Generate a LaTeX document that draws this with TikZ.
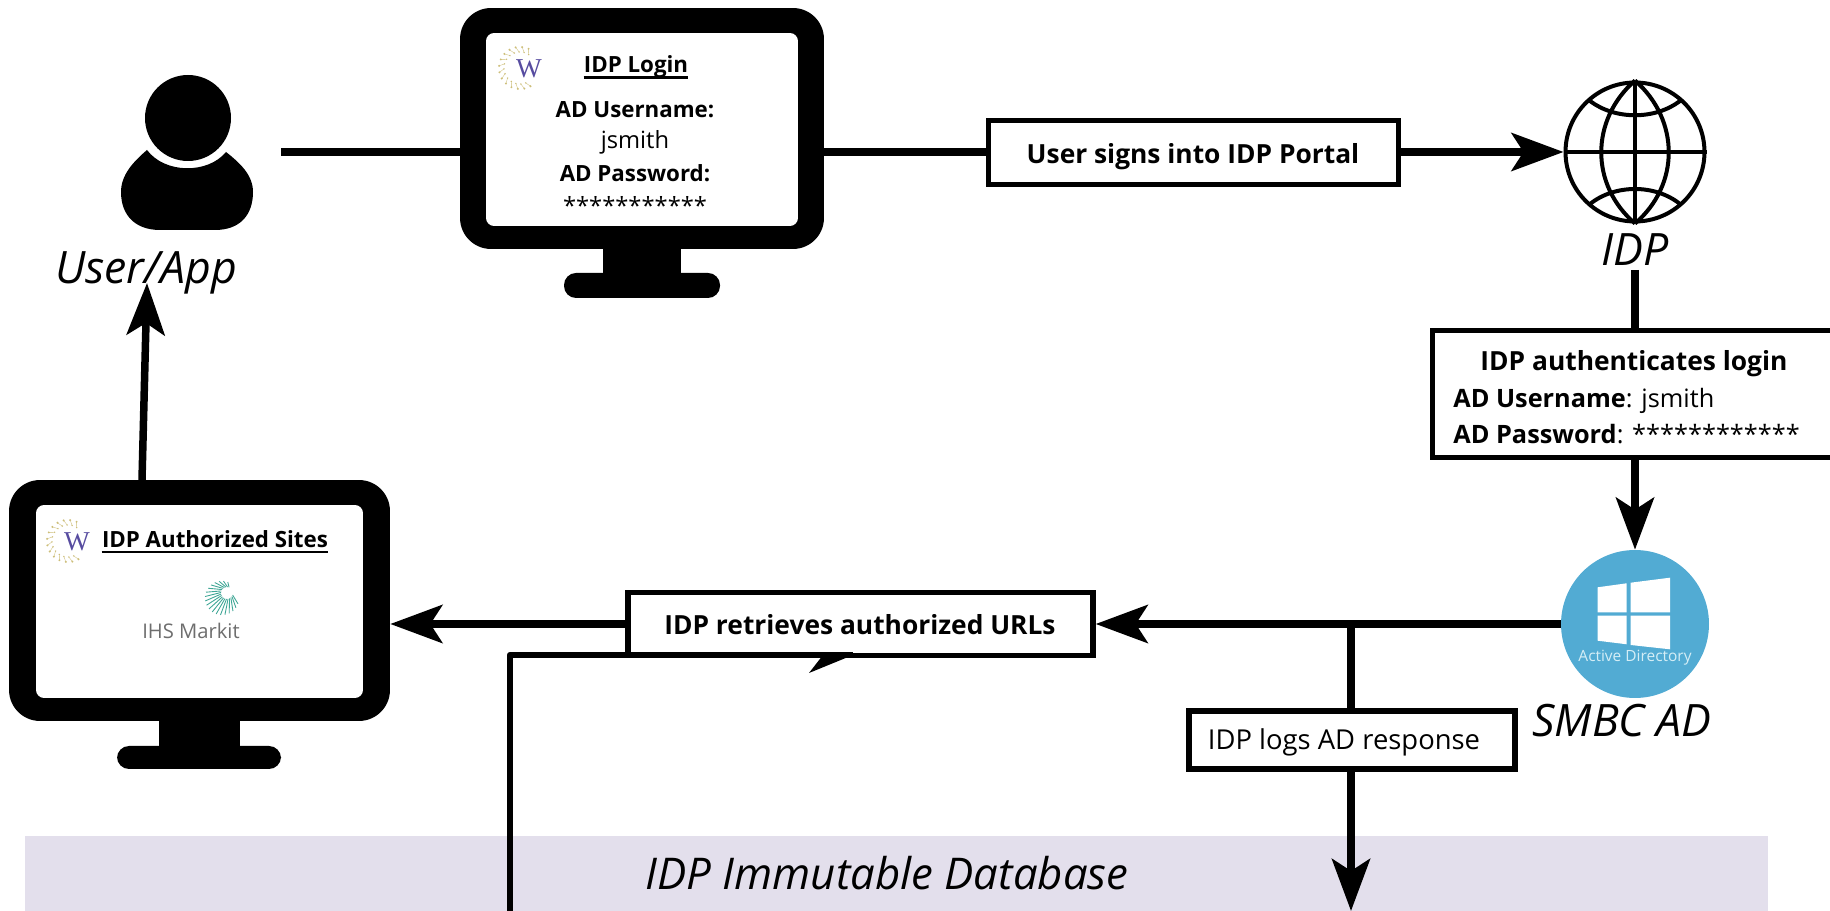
\documentclass[tikz,border=0pt]{standalone}
\usepackage{fontspec}
\setmainfont{Open Sans}
\newfontfamily\logofont{Liberation Serif}
\usepackage{tikz}
\usetikzlibrary{arrows.meta,calc}

\definecolor{adblue}{HTML}{52ABD3}
\definecolor{adtext}{HTML}{D5EEF6}
\definecolor{bandlilac}{HTML}{E3DFEC}
\definecolor{logogold}{HTML}{CDBE78}
\definecolor{logoblue}{HTML}{574CA0}
\definecolor{burstgreen}{HTML}{3FA796}
\definecolor{markitgray}{HTML}{6E6E6E}

\tikzset{
	flow/.style={line width=0.15cm,-{Stealth[length=1.04cm,width=0.76cm,inset=0.24cm]}},
	plainflow/.style={line width=0.15cm},
	stepbox/.style={draw,line width=0.11cm,fill=white,inner sep=0pt},
	monitor/.style={fill=black,rounded corners=0.62cm,inner sep=0pt},
	screen/.style={fill=white,rounded corners=0.16cm,inner sep=0pt},
	lbl/.style={inner sep=0pt,font=\fontsize{14.4}{17}\selectfont},
	boldlbl/.style={inner sep=0pt,font=\fontsize{15}{18}\selectfont\bfseries},
	screenlbl/.style={inner sep=0pt,font=\fontsize{13.5}{16}\selectfont},
	screenbold/.style={inner sep=0pt,font=\fontsize{12.7}{15}\selectfont\bfseries},
	actor/.style={inner sep=0pt,font=\fontsize{25.4}{30}\selectfont\itshape},
	headrule/.style={line width=0.05cm},
	wlogo/.pic={
		\foreach \a in {60,78,...,310}{
			\fill[logogold] (\a:21) circle (1.1);
			\fill[logogold] (\a+9:16) circle (0.8);
			\draw[logogold,line width=0.2pt] (\a:21) -- (\a+9:16);
		}
		\node[inner sep=0pt,text=logoblue,font=\logofont\fontsize{15.5}{17}\selectfont] (-mark) at (9,1) {W};
	}
}

\begin{document}
\begin{tikzpicture}[x=0.02cm,y=-0.02cm]
	\useasboundingbox (0,0) rectangle (1830,911);

	%database band
	\fill[bandlilac] (25,836) rectangle (1768,911);
	\node[actor,font=\fontsize{24.9}{30}\selectfont\itshape] (dbname) at (887,873) {IDP Immutable Database};
	\coordinate (dbin) at (1351,911);
	\coordinate (dbout) at (510,911);

	%user
	\fill (188,118) circle (43);
	\fill (147,150) .. controls (165,174) and (208,174) .. (226,152)
		.. controls (240,163) and (253,175) .. (253,192)
		.. controls (253,215) and (240,230) .. (215,230) -- (160,230)
		.. controls (135,230) and (121,215) .. (121,192)
		.. controls (121,175) and (133,162) .. (147,150) -- cycle;
	\node[actor] (username) at (146,273) {User/App};
	\coordinate (usertail) at (281,152);
	\coordinate (userin) at (147,283);

	%login monitor
	\fill (603,245) rectangle (681,278);
	\fill[rounded corners=0.24cm] (564,273) rectangle (720,298);
	\node[monitor,minimum width=7.28cm,minimum height=4.82cm] (loginmon) at (642,128.5) {};
	\node[screen,minimum width=6.24cm,minimum height=3.86cm] (loginscreen) at (642,129.5) {};
	\pic (loginlogo) at (520,68) {wlogo};
	\node[screenbold] (logintitle) at (636,67) {IDP Login};
	\draw[headrule] ([yshift=-2.6pt]logintitle.base west) -- ([yshift=-2.6pt]logintitle.base east);
	\node[screenbold] (loginuser) at (635,110) {AD Username:};
	\node[screenlbl] (loginname) at (635,142) {jsmith};
	\node[screenbold] (loginpass) at (635,173) {AD Password:};
	\node[screenlbl] (loginstars) at (635,205) {***********};

	%sites monitor
	\fill (159,717) rectangle (240,750);
	\fill[rounded corners=0.24cm] (117,746) rectangle (281,769);
	\node[monitor,minimum width=7.62cm,minimum height=4.82cm] (sitesmon) at (199.5,600.5) {};
	\node[screen,minimum width=6.54cm,minimum height=3.86cm] (sitesscreen) at (199.5,601.5) {};
	\pic (siteslogo) at (68,541) {wlogo};
	\node[screenbold] (sitestitle) at (215,539) {IDP Authorized Sites};
	\draw[headrule] ([yshift=-2.6pt]sitestitle.base west) -- ([yshift=-2.6pt]sitestitle.base east);
	\coordinate (bursthole) at (227,593);
	\coordinate (burstmid) at (222,598);
	\foreach \a in {20,35,...,290}{
		\draw[burstgreen,line width=0.5pt] ($(bursthole)+(\a:6)$) -- ($(burstmid)+(\a:17)$);
	}
	\node[inner sep=0pt,text=markitgray,font=\fontsize{11.5}{13}\selectfont] (markit) at (191,631) {IHS Markit};

	%idp globe
	\node[circle,draw,line width=0.08cm,minimum size=2.78cm,inner sep=0pt] (globe) at (1635,152) {};
	\draw[line width=0.08cm] (globe.west) -- (globe.east);
	\draw[line width=0.08cm] (globe.north) -- (globe.south);
	\draw[line width=0.08cm] (globe.north) .. controls (1590,120) and (1590,185) .. (globe.south);
	\draw[line width=0.08cm] (globe.north) .. controls (1680,120) and (1680,185) .. (globe.south);
	\draw[line width=0.08cm] (1590,101) .. controls (1615,120) and (1655,120) .. (1680,101);
	\draw[line width=0.08cm] (1590,204) .. controls (1615,184) and (1655,184) .. (1680,204);
	\node[actor] (idpname) at (1635,250) {IDP};
	\coordinate (idptail) at (1635,270);

	%active directory
	\node[circle,fill=adblue,minimum size=2.96cm,inner sep=0pt] (adcircle) at (1635,624) {};
	\fill[white] (1597.7,587.3) -- (1626.7,583.3) -- (1626.7,612.3) -- (1597.7,612.3) -- cycle;
	\fill[white] (1630.7,582.7) -- (1670,577.7) -- (1670,612.3) -- (1630.7,612.3) -- cycle;
	\fill[white] (1597.7,615.7) -- (1626.7,615.7) -- (1626.7,644.3) -- (1597.7,640.7) -- cycle;
	\fill[white] (1630.7,615.7) -- (1670,615.7) -- (1670,649.3) -- (1630.7,645) -- cycle;
	\node[inner sep=0pt,text=adtext,font=\fontsize{8.8}{11}\selectfont] (adword) at (1635,658) {Active Directory};
	\node[actor] (adname) at (1622,721) {SMBC AD};

	%step boxes
	\node[stepbox,minimum width=8.2cm,minimum height=1.28cm] (signbox) at (1193.5,152.5) {};
	\node[boldlbl] (signtext) at (1193,157) {User signs into IDP Portal};
	\node[stepbox,minimum width=8.3cm,minimum height=2.54cm] (authbox) at (1640,394) {};
	\node[boldlbl] (authtitle) at (1634,364) {IDP authenticates login};
	\node[lbl,anchor=west] (authuser) at (1453,401) {\textbf{AD Username}: jsmith};
	\node[lbl,anchor=west] (authpass) at (1453,434) {\textbf{AD Password}: ************};
	\node[stepbox,minimum width=9.3cm,minimum height=1.26cm] (urlbox) at (860.5,624) {};
	\node[boldlbl] (urltext) at (860,625) {IDP retrieves authorized URLs};
	\node[stepbox,minimum width=6.52cm,minimum height=1.16cm] (logbox) at (1352,740) {};
	\node[inner sep=0pt,font=\fontsize{15.6}{18}\selectfont] (logtext) at (1344,742) {IDP logs AD response};

	%connectors
	\draw[plainflow] (usertail) -- (usertail -| loginmon.west);
	\draw[plainflow] (usertail -| loginmon.east) -- (usertail -| signbox.west);
	\draw[flow] (usertail -| signbox.east) -- (globe.west);
	\draw[plainflow] (idptail) -- (idptail |- authbox.north);
	\draw[flow] (adcircle |- authbox.south) -- (adcircle.north);
	\draw[flow] (adcircle.west) -- (urlbox.east);
	\draw[flow] (urlbox.west) -- (urlbox.west -| sitesmon.east);
	\coordinate (logjoin) at (1351,624);
	\draw[plainflow] (logjoin) -- (logjoin |- logbox.north);
	\draw[flow] (logjoin |- logbox.south) -- (dbin);
	\draw[flow] (142,480) -- (userin);
	\coordinate (barbbase) at (853,655);
	\draw[line width=0.13cm,line join=round] (dbout) |- (barbbase);
	\coordinate (barbtip) at (809,673);
	\fill (823,655) -- (barbtip) -- (barbbase) -- cycle;
\end{tikzpicture}
\end{document}
